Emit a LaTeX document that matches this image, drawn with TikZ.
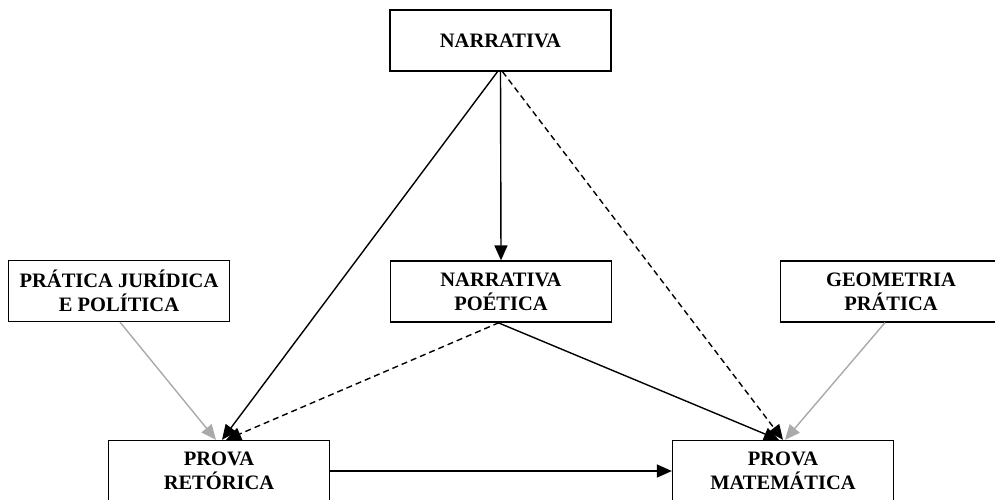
\documentclass[tikz,border=0pt]{standalone}
\usepackage{fontspec}
\setmainfont{Liberation Serif}
\usetikzlibrary{arrows.meta}
\definecolor{arrgray}{RGB}{170,170,170}
\tikzset{
  box/.style={draw, line width=1.3pt, minimum width=221pt, minimum height=61pt, align=center, inner sep=0pt,
    font=\fontsize{20.5}{24}\selectfont\bfseries},
  arr/.style={line width=1.4pt, -{Triangle[length=15pt,width=13pt]}},
  darr/.style={arr, dashed, dash pattern=on 6pt off 4pt},
  garr/.style={arr, draw=arrgray, fill=arrgray}
}
\begin{document}
\begin{tikzpicture}[x=1pt,y=-1pt]
\clip (0,0) rectangle (995,499);
\useasboundingbox (0,0) rectangle (995,499);
\node[box] (narr) at (500.5,40.5) {NARRATIVA};
\node[box] (pjp) at (119,291) {PRÁTICA JURÍDICA\\E POLÍTICA};
\node[box] (np) at (501,291.5) {NARRATIVA\\POÉTICA};
\node[box] (geo) at (891,291.5) {GEOMETRIA\\PRÁTICA};
\node[box] (pr) at (219,471) {PROVA\\RETÓRICA};
\node[box] (pm) at (783,471) {PROVA\\MATEMÁTICA};
\draw[arr] (narr.south) -- (np.north);
\draw[arr] ([xshift=-3pt]narr.south) -- ([xshift=3pt]pr.north);
\draw[darr] ([xshift=2pt]narr.south) -- ([xshift=0pt]pm.north);
\draw[garr] ([xshift=1pt]pjp.south) -- ([xshift=-3pt]pr.north);
\draw[darr] ([xshift=-2pt]np.south) -- ([xshift=7pt]pr.north);
\draw[arr] ([xshift=-3pt]np.south) -- ([xshift=-4pt]pm.north);
\draw[garr] ([xshift=-6pt]geo.south) -- ([xshift=2pt]pm.north);
\draw[arr] (pr.east) -- (pm.west);
\end{tikzpicture}
\end{document}
